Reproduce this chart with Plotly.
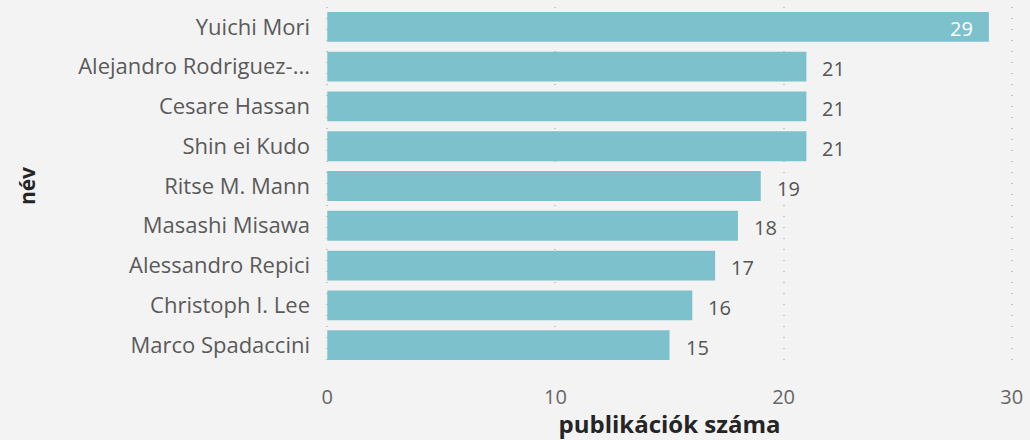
import plotly.graph_objects as go

names = ["Yuichi Mori", "Alejandro Rodriguez-...", "Cesare Hassan", "Shin ei Kudo",
         "Ritse M. Mann", "Masashi Misawa", "Alessandro Repici", "Christoph I. Lee",
         "Marco Spadaccini"]
counts = [29, 21, 21, 21, 19, 18, 17, 16, 15]
x_ticks = [0, 10, 20, 30]

FONT = "Open Sans"

fig = go.Figure(go.Bar(
    y=names, x=counts, orientation="h",
    marker=dict(color="#7cc1cc", line=dict(width=0)),
    width=0.75,
    hoverinfo="x+y",
))

top = max(counts)
for n, c in zip(names, counts):
    inside = c == top
    fig.add_annotation(
        x=c, y=n, xref="x", yref="y", text=str(c), showarrow=False,
        xanchor="right" if inside else "left",
        xshift=-14 if inside else 14, yshift=-2,
        font=dict(family=FONT, size=20, color="#ffffff" if inside else "#555555"),
    )

fig.update_layout(
    width=1030, height=440,
    margin=dict(l=325, r=11, t=7, b=73),
    paper_bgcolor="#f3f3f3", plot_bgcolor="#f3f3f3",
    showlegend=False,
    font=dict(family=FONT, color="#666666", size=16),
)
fig.update_yaxes(
    autorange="reversed", showgrid=False, zeroline=False, ticks="",
    ticklabelstandoff=14,
    tickfont=dict(size=22, color="#5a5a5a", family=FONT),
    title=dict(text="név", font=dict(size=21, color="#252525", family=FONT, weight="bold"), standoff=36),
)
fig.update_xaxes(
    range=[-0.1, 30.1], tickvals=x_ticks, showgrid=True,
    gridcolor="#c4c4c4", griddash="1px,10px", gridwidth=1.5, zeroline=False,
    ticklabelstandoff=18,
    tickfont=dict(size=20, color="#666666", family=FONT),
    title=dict(text="publikációk száma", font=dict(size=24, color="#252525", family=FONT, weight="bold"), standoff=6),
)
fig.write_html("out.html")
